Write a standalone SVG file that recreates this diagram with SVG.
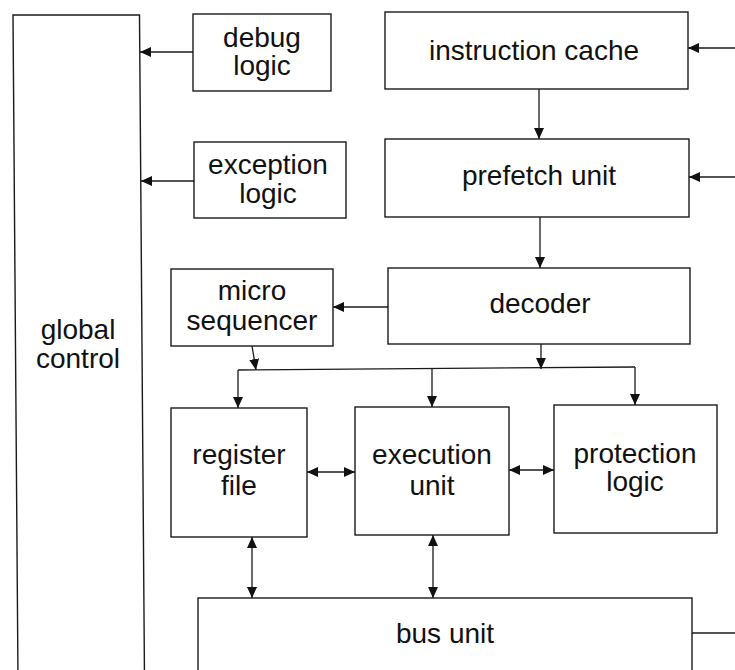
<svg xmlns="http://www.w3.org/2000/svg" width="735" height="670" viewBox="0 0 735 670">
<defs>
<style>
.box{fill:#fff;stroke:#1a1a1a;stroke-width:1.4}
.lbl{font-family:"Liberation Sans",Arial,Helvetica,sans-serif;font-size:28px;fill:#111;text-anchor:middle}
.con{fill:none;stroke:#1a1a1a;stroke-width:1.3}
.a{marker-end:url(#ah)}
.b{marker-start:url(#ah);marker-end:url(#ah)}
</style>
<marker id="ah" markerUnits="userSpaceOnUse" markerWidth="12" markerHeight="10" refX="11" refY="5" orient="auto-start-reverse">
<path d="M0,0 L11,5 L0,10 z" fill="#111"/>
</marker>
</defs>
<rect width="735" height="670" fill="#fff"/>

<g id="global-control">
<path class="box" d="M13,15 L139.5,15 L144.5,680 L18,680 Z"/>
<text class="lbl" x="78" y="339">global</text>
<text class="lbl" x="78" y="368">control</text>
</g>

<g id="debug-logic">
<rect class="box" x="193" y="14" width="138" height="77"/>
<text class="lbl" x="262" y="47">debug</text>
<text class="lbl" x="262" y="75">logic</text>
</g>

<g id="exception-logic">
<rect class="box" x="194" y="142" width="152" height="76"/>
<text class="lbl" x="268" y="174">exception</text>
<text class="lbl" x="268" y="203">logic</text>
</g>

<g id="instruction-cache">
<rect class="box" x="385" y="12" width="303" height="77"/>
<text class="lbl" x="534" y="60">instruction cache</text>
</g>

<g id="prefetch-unit">
<rect class="box" x="385" y="139" width="304" height="78"/>
<text class="lbl" x="539" y="185">prefetch unit</text>
</g>

<g id="decoder">
<rect class="box" x="388" y="268" width="302" height="76"/>
<text class="lbl" x="540" y="313">decoder</text>
</g>

<g id="micro-sequencer">
<rect class="box" x="171" y="269" width="162" height="77"/>
<text class="lbl" x="252" y="300">micro</text>
<text class="lbl" x="252" y="330">sequencer</text>
</g>

<g id="register-file">
<rect class="box" x="171" y="408" width="136" height="129"/>
<text class="lbl" x="239" y="464">register</text>
<text class="lbl" x="239" y="495">file</text>
</g>

<g id="execution-unit">
<rect class="box" x="355" y="407" width="154" height="128"/>
<text class="lbl" x="432" y="464">execution</text>
<text class="lbl" x="432" y="495">unit</text>
</g>

<g id="protection-logic">
<rect class="box" x="554" y="405" width="163" height="128"/>
<text class="lbl" x="635" y="463">protection</text>
<text class="lbl" x="635" y="491">logic</text>
</g>

<g id="bus-unit">
<rect class="box" x="198" y="598" width="494" height="100"/>
<text class="lbl" x="445" y="643">bus unit</text>
</g>

<g id="connectors">
<line class="con a" x1="193" y1="52" x2="140" y2="52"/>
<line class="con a" x1="194" y1="181" x2="141" y2="181"/>
<line class="con a" x1="735" y1="48" x2="688" y2="48"/>
<line class="con a" x1="735" y1="177" x2="689" y2="177"/>
<line class="con a" x1="539" y1="89" x2="539" y2="139"/>
<line class="con a" x1="540" y1="217" x2="540" y2="268"/>
<line class="con a" x1="388" y1="307" x2="333" y2="307"/>
<line class="con a" x1="252" y1="346" x2="256" y2="370"/>
<line class="con a" x1="541" y1="344" x2="541" y2="369"/>
<polyline class="con" points="238,370 635,367"/>
<line class="con a" x1="238" y1="370" x2="238" y2="408"/>
<line class="con a" x1="432" y1="368.5" x2="432" y2="407"/>
<line class="con a" x1="635" y1="367" x2="635" y2="405"/>
<line class="con b" x1="307" y1="472" x2="355" y2="472"/>
<line class="con b" x1="509" y1="470" x2="554" y2="470"/>
<line class="con b" x1="252" y1="537" x2="252" y2="598"/>
<line class="con b" x1="433" y1="535" x2="433" y2="598"/>
<line class="con" x1="692" y1="633" x2="735" y2="633"/>
</g>
</svg>
